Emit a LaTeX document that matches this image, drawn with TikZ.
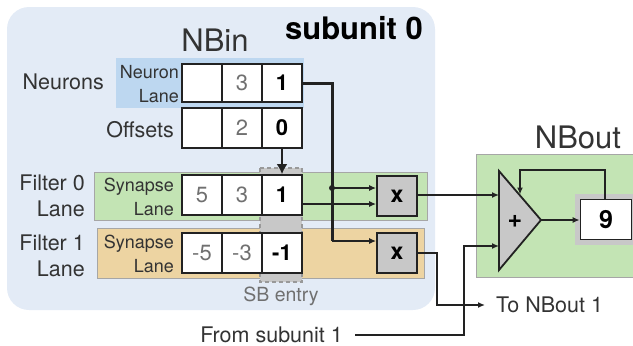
\documentclass[tikz,border=0pt]{standalone}
\usepackage{fontspec}
\setmainfont{TeX Gyre Heros}
\usetikzlibrary{arrows.meta,calc}
\definecolor{subbg}{HTML}{E3EBF6}
\definecolor{lanebl}{HTML}{BDD7F0}
\definecolor{lanegr}{HTML}{C3E4B4}
\definecolor{laneor}{HTML}{EDD4A2}
\definecolor{cellgray}{HTML}{C8C8C8}
\definecolor{ink}{HTML}{222222}
\definecolor{txt}{HTML}{333333}
\definecolor{dimtxt}{HTML}{707070}
\tikzset{
  cell/.style={draw=ink, line width=1.8pt, fill=white, minimum width=40pt, minimum height=#1, inner sep=0pt, font=\fontsize{22}{24}\selectfont, text=dimtxt},
  cell/.default=40pt,
  hot/.style={font=\fontsize{22}{24}\selectfont\bfseries, text=black},
  mult/.style={draw=ink, line width=1.8pt, fill=cellgray, minimum width=40pt, minimum height=40pt, inner sep=0pt, font=\fontsize{23}{24}\selectfont\bfseries},
  lbl/.style={font=\fontsize{21.5}{26}\selectfont, text=txt, inner sep=0pt, align=right},
  small/.style={font=\fontsize{18}{24}\selectfont, text=txt, inner sep=0pt, align=right},
  wire/.style={draw=ink, line width=1.3pt},
  arr/.style={wire, -{Latex[length=7pt,width=6pt]}},
  lanebox/.style={draw=black!35, line width=0.6pt},
}
\begin{document}
\begin{tikzpicture}[x=1pt,y=-1pt]
\useasboundingbox (0,0) rectangle (633,346);
% subunit background
\fill[subbg, rounded corners=22pt] (7,7) rectangle (435,310);
\node[font=\fontsize{31}{32}\selectfont\bfseries, text=black] (sub) at (354,28) {subunit 0};
\node[font=\fontsize{31}{34}\selectfont, text=txt] (nbin) at (215,40) {NBin};
% lanes
\fill[lanebl] (116,58) rectangle (304,108);
\fill[lanegr, lanebox] (94,172) rectangle (427,220);
\fill[laneor, lanebox] (97,228) rectangle (424,278);
% SB entry
\fill[cellgray] (260,168) rectangle (302,282);
\draw[black!40, dashed, line width=1.5pt, dash pattern=on 4pt off 3pt] (260,168) rectangle (302,282);
\node[font=\fontsize{19.5}{22}\selectfont, text=dimtxt] (sbl) at (281,296) {SB entry};
% neuron row
\node[cell=38pt] (n1) at (202,83) {};
\node[cell=38pt] (n2) at (242,83) {3};
\node[cell=38pt, hot] (n3) at (282,83) {1};
% offsets
\node[cell] (o1) at (202,128) {};
\node[cell] (o2) at (242,128) {2};
\node[cell, hot] (o3) at (282,128) {0};
% filter 0
\node[cell] (a1) at (202,195) {5};
\node[cell] (a2) at (242,195) {3};
\node[cell, hot] (a3) at (282,195) {1};
% filter 1
\node[cell] (b1) at (202,253) {-5};
\node[cell] (b2) at (242,253) {-3};
\node[cell, hot] (b3) at (282,253) {-1};
% labels
\node[lbl, anchor=east] (lneur) at (104,82) {Neurons};
\node[lbl, anchor=east] (loff) at (174,130) {Offsets};
\node[small, anchor=east] (lnl) at (179,84) {Neuron\\Lane};
\node[lbl, anchor=east] (lf0) at (85,196) {Filter 0\\Lane};
\node[lbl, anchor=east] (lf1) at (85,256) {Filter 1\\Lane};
\node[small, anchor=east] (ls0) at (174,197) {Synapse\\Lane};
\node[small, anchor=east] (ls1) at (174,254) {Synapse\\Lane};
% multipliers
\node[mult] (m1) at (397,196) {x};
\node[mult] (m2) at (397,253) {x};
% offset arrow
\draw[draw=ink, line width=2.6pt, -{Latex[length=10pt,width=11pt]}] (o3.south) -- (a3.north);
% neuron wire
\coordinate (m1a) at ([yshift=8pt]m1.west);
\coordinate (m1b) at ([yshift=-8pt]m1.west);
\coordinate (m2a) at ([yshift=12pt]m2.west);
\coordinate (jt) at (332,83);
\coordinate (jb) at (332,241);
\draw[draw=ink, line width=3pt] (n3.east) -- (jt) -- (jb |- m2a);
\draw[arr] (jb |- m2a) -- (m2a);
\draw[arr] (jt |- m1a) -- (m1a);
\fill[ink] (jt |- m1a) circle (3pt);
\draw[arr] (a3.east |- m1b) -- (m1b);
% NBout
\fill[lanegr, lanebox] (476,154) rectangle (634,277);
\node[font=\fontsize{31}{34}\selectfont, text=txt] (nbout) at (578,137) {NBout};
\coordinate (ta) at (499,171);
\coordinate (tb) at (499,270);
\coordinate (tc) at (541,220);
\draw[draw=ink, line width=1.8pt, fill=cellgray, line join=miter] (ta) -- (tc) -- (tb) -- cycle;
\node[font=\fontsize{25}{26}\selectfont\bfseries] (plus) at (515,221) {+};
\coordinate (in1) at (499,195);
\coordinate (in2) at (499,246);
\fill[cellgray] (575,194) rectangle (633,245);
\node[draw=ink, line width=1.8pt, fill=white, minimum width=51pt, minimum height=40pt, inner sep=0pt, font=\fontsize{25}{26}\selectfont\bfseries] (reg) at (606,219.5) {9};
\draw[arr] (m1.east |- in1) -- (in1);
\draw[arr] (tc) -- (reg.west |- tc);
\coordinate (fb1) at (605,170);
\coordinate (fb2) at (520,170);
\draw[arr] (reg.north -| fb1) -- (fb1) -- (fb2) -- (520,194.5);
% outputs
\node[lbl, anchor=west] (to1) at (496,305) {To NBout 1};
\coordinate (k1) at (437,253);
\coordinate (k2) at (437,305);
\draw[arr] (m2.east) -- (k1) -- (k2) -- ([xshift=-11pt]to1.west);
\node[lbl, anchor=east] (from1) at (343,335) {From subunit 1};
\coordinate (f1) at (464,335);
\coordinate (f2) at (464,246);
\draw[arr] ([xshift=12pt]from1.east) -- (f1) -- (f2) -- (in2);
\end{tikzpicture}
\end{document}
